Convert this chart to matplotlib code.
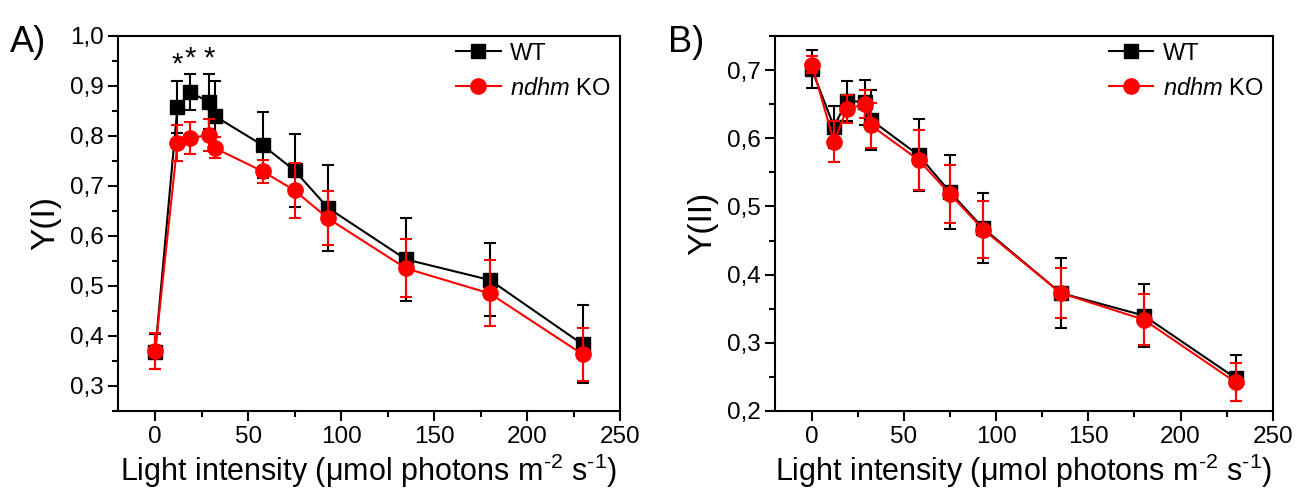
import matplotlib
matplotlib.use('Agg')
import matplotlib.pyplot as plt
from matplotlib.lines import Line2D
from matplotlib.ticker import MultipleLocator, FuncFormatter

plt.rcParams['font.family'] = ['Liberation Sans', 'DejaVu Sans']
plt.rcParams['mathtext.fontset'] = 'custom'
plt.rcParams['mathtext.rm'] = 'Liberation Sans'
plt.rcParams['mathtext.it'] = 'Liberation Sans:italic'

# light intensities (umol photons m-2 s-1)
light = [0, 12, 19, 29, 32, 58, 75, 93, 135, 180, 230]

# Y(I)
wt_y1 = [0.368, 0.858, 0.887, 0.868, 0.840, 0.781, 0.731, 0.656, 0.553, 0.512, 0.383]
wt_y1_err = [0.035, 0.052, 0.036, 0.055, 0.069, 0.066, 0.073, 0.086, 0.083, 0.073, 0.078]
ko_y1 = [0.370, 0.786, 0.796, 0.802, 0.776, 0.729, 0.691, 0.635, 0.535, 0.485, 0.363]
ko_y1_err = [0.036, 0.036, 0.032, 0.032, 0.021, 0.023, 0.055, 0.054, 0.058, 0.066, 0.053]

# Y(II)
wt_y2 = [0.701, 0.617, 0.655, 0.653, 0.627, 0.575, 0.521, 0.468, 0.373, 0.340, 0.248]
wt_y2_err = [0.028, 0.031, 0.029, 0.033, 0.044, 0.053, 0.054, 0.051, 0.051, 0.046, 0.034]
ko_y2 = [0.708, 0.595, 0.643, 0.650, 0.619, 0.568, 0.518, 0.466, 0.373, 0.334, 0.242]
ko_y2_err = [0.013, 0.030, 0.021, 0.021, 0.033, 0.044, 0.043, 0.042, 0.037, 0.037, 0.028]

# significant points in Y(I)
star_idx = [1, 2, 3]

comma = FuncFormatter(lambda v, p: f"{v:.1f}".replace('.', ','))
red = '#ff0000'


def draw_panel(ax, wt, wt_err, ko, ko_err, ylim, ylabel, letter):
    ax.errorbar(light, wt, yerr=wt_err, color='black', marker='s', ms=10,
                lw=1.5, elinewidth=1.5, capsize=4, capthick=1.5, zorder=3)
    ax.errorbar(light, ko, yerr=ko_err, color=red, marker='o', ms=11,
                lw=1.5, elinewidth=1.5, capsize=4, capthick=1.5, zorder=4)
    ax.set_xlim(-20, 250)
    ax.set_ylim(*ylim)
    ax.xaxis.set_major_locator(MultipleLocator(50))
    ax.xaxis.set_minor_locator(MultipleLocator(25))
    ax.yaxis.set_major_locator(MultipleLocator(0.1))
    ax.yaxis.set_minor_locator(MultipleLocator(0.05))
    ax.yaxis.set_major_formatter(comma)
    ax.tick_params(which='major', direction='out', length=7, width=1.5, labelsize=17.5)
    ax.tick_params(which='minor', direction='out', length=4, width=1.5)
    for s in ax.spines.values():
        s.set_linewidth(1.5)
    ax.set_xlabel('Light intensity (\u03bcmol photons m$^{\u2010\\mathrm{2}}$ s$^{\u2010\\mathrm{1}}$)',
                  fontsize=22, labelpad=3)
    ax.set_ylabel(ylabel, fontsize=24, labelpad=6)
    handles = [Line2D([], [], color='black', marker='s', ms=10, lw=1.5),
               Line2D([], [], color=red, marker='o', ms=11, lw=1.5)]
    ax.legend(handles, ['WT', '$\\it{ndhm}$ KO'], loc='upper right', frameon=False,
              fontsize=17, handlelength=1.9, handletextpad=0.4, borderaxespad=0.2,
              labelspacing=0.55, bbox_to_anchor=(1.01, 1.02))
    ax.text(-0.215, 1.03, letter, transform=ax.transAxes, fontsize=26,
            ha='left', va='top')


fig = plt.figure(figsize=(13.08, 4.91), dpi=100)
ax1 = fig.add_axes([0.0902, 0.163, 0.3838, 0.7637])
ax2 = fig.add_axes([0.5925, 0.163, 0.3805, 0.7637])

draw_panel(ax1, wt_y1, wt_y1_err, ko_y1, ko_y1_err, (0.25, 1.0), 'Y(I)', 'A)')
draw_panel(ax2, wt_y2, wt_y2_err, ko_y2, ko_y2_err, (0.2, 0.75), 'Y(II)', 'B)')

for i in star_idx:
    ax1.text(light[i], wt_y1[i] + wt_y1_err[i] + 0.004, '*', fontsize=21,
             ha='center', va='bottom')

fig.savefig('out.png', dpi=100)
